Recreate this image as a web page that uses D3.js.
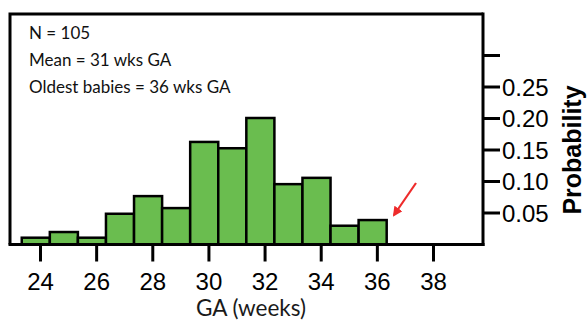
<!DOCTYPE html>
<html>
<head>
<meta charset="utf-8">
<script src="https://cdn.jsdelivr.net/npm/d3@7"></script>
<style>
  body { margin: 0; background: #fff; }
  svg { display: block; }
  .note { font-family: Lato, "Open Sans", sans-serif; font-size: 17px; fill: #111; }
  .tick-label { font-family: "Liberation Sans", Arial, sans-serif; font-size: 24px; fill: #000; }
</style>
</head>
<body>
<svg width="587" height="322"></svg>
<script>
// GA histogram (N = 105)
var weeks = [24, 25, 26, 27, 28, 29, 30, 31, 32, 33, 34, 35, 36];
var probability = [0.010, 0.019, 0.010, 0.048, 0.076, 0.057, 0.162, 0.152, 0.200, 0.095, 0.105, 0.029, 0.038];
var xTicks = [24, 26, 28, 30, 32, 34, 36, 38];
var yTicks = [0.05, 0.10, 0.15, 0.20, 0.25, 0.30];
var yTickLabels = ["0.05", "0.10", "0.15", "0.20", "0.25", ""];
var notes = ["N = 105", "Mean = 31 wks GA", "Oldest babies = 36 wks GA"];

var svg = d3.select("svg");
var LEFT = 10, TOP = 14, RIGHT = 483, BASE = 244.5;
var BIN_OFFSET = 0.65; // bars sit a bit left of their tick

var x = d3.scaleLinear().domain([24, 38]).range([40, 433]);
var y = d3.scaleLinear().domain([0, 0.30]).range([244, 55]);

// bars
svg.append("g").selectAll("rect")
    .data(weeks)
    .enter().append("rect")
    .attr("x", function(d) { return x(d - BIN_OFFSET); })
    .attr("width", function(d) { return x(d + 1 - BIN_OFFSET) - x(d - BIN_OFFSET); })
    .attr("y", function(d, i) { return y(probability[i]); })
    .attr("height", function(d, i) { return BASE - y(probability[i]); })
    .attr("fill", "#6abd4f")
    .attr("stroke", "#000")
    .attr("stroke-width", 2.5);

// frame: left and top lines
svg.append("path")
    .attr("d", "M" + LEFT + "," + BASE + "V" + TOP + "H" + RIGHT)
    .attr("fill", "none")
    .attr("stroke", "#000")
    .attr("stroke-width", 3);

// bottom axis
var xAxis = svg.append("g").attr("transform", "translate(0," + BASE + ")")
    .call(d3.axisBottom(x).tickValues(xTicks).tickSize(17).tickSizeOuter(0).tickFormat(d3.format("d")));
xAxis.select(".domain").remove();
xAxis.append("line").attr("x1", LEFT - 1.5).attr("x2", RIGHT + 1.5).attr("stroke", "#000").attr("stroke-width", 3);
xAxis.selectAll(".tick line").attr("stroke-width", 3);
xAxis.selectAll(".tick text").attr("class", "tick-label").attr("dy", 0).attr("y", 45);

// right axis
var yAxis = svg.append("g").attr("transform", "translate(" + RIGHT + ",0)")
    .call(d3.axisRight(y).tickValues(yTicks).tickSize(17).tickSizeOuter(0)
        .tickFormat(function(d, i) { return yTickLabels[i]; }));
yAxis.select(".domain").remove();
yAxis.append("line").attr("y1", TOP - 1.5).attr("y2", BASE + 1.5).attr("stroke", "#000").attr("stroke-width", 3);
yAxis.selectAll(".tick line").attr("stroke-width", 3);
yAxis.selectAll(".tick text").attr("class", "tick-label").attr("x", 19).attr("dy", "0.36em");

svg.append("text")
    .attr("transform", "translate(581,150) rotate(-90)")
    .attr("text-anchor", "middle")
    .style("font-family", "'Liberation Sans', Arial, sans-serif")
    .style("font-size", "25px")
    .style("font-weight", "bold")
    .text("Probability");

svg.append("text")
    .attr("x", 251)
    .attr("y", 316)
    .attr("text-anchor", "middle")
    .style("font-family", "Lato, 'Open Sans', sans-serif")
    .style("font-size", "22.5px")
    .style("fill", "#1a1a1a")
    .text("GA (weeks)");

// notes in the upper left
svg.append("g").selectAll("text")
    .data(notes)
    .enter().append("text")
    .attr("class", "note")
    .attr("x", 29)
    .attr("y", function(d, i) { return 39 + i * 27; })
    .text(function(d) { return d; });

// red arrow toward the oldest babies
var defs = svg.append("defs");
defs.append("marker")
    .attr("id", "head")
    .attr("viewBox", "0 0 10 10")
    .attr("refX", 8).attr("refY", 5)
    .attr("markerWidth", 4.5).attr("markerHeight", 4.5)
    .attr("orient", "auto")
    .append("path").attr("d", "M0,0L10,5L0,10z").attr("fill", "#ee2b2b");

svg.append("line")
    .attr("x1", 416).attr("y1", 183)
    .attr("x2", 394).attr("y2", 215)
    .attr("stroke", "#ee2b2b")
    .attr("stroke-width", 2.2)
    .attr("marker-end", "url(#head)");
</script>
</body>
</html>
